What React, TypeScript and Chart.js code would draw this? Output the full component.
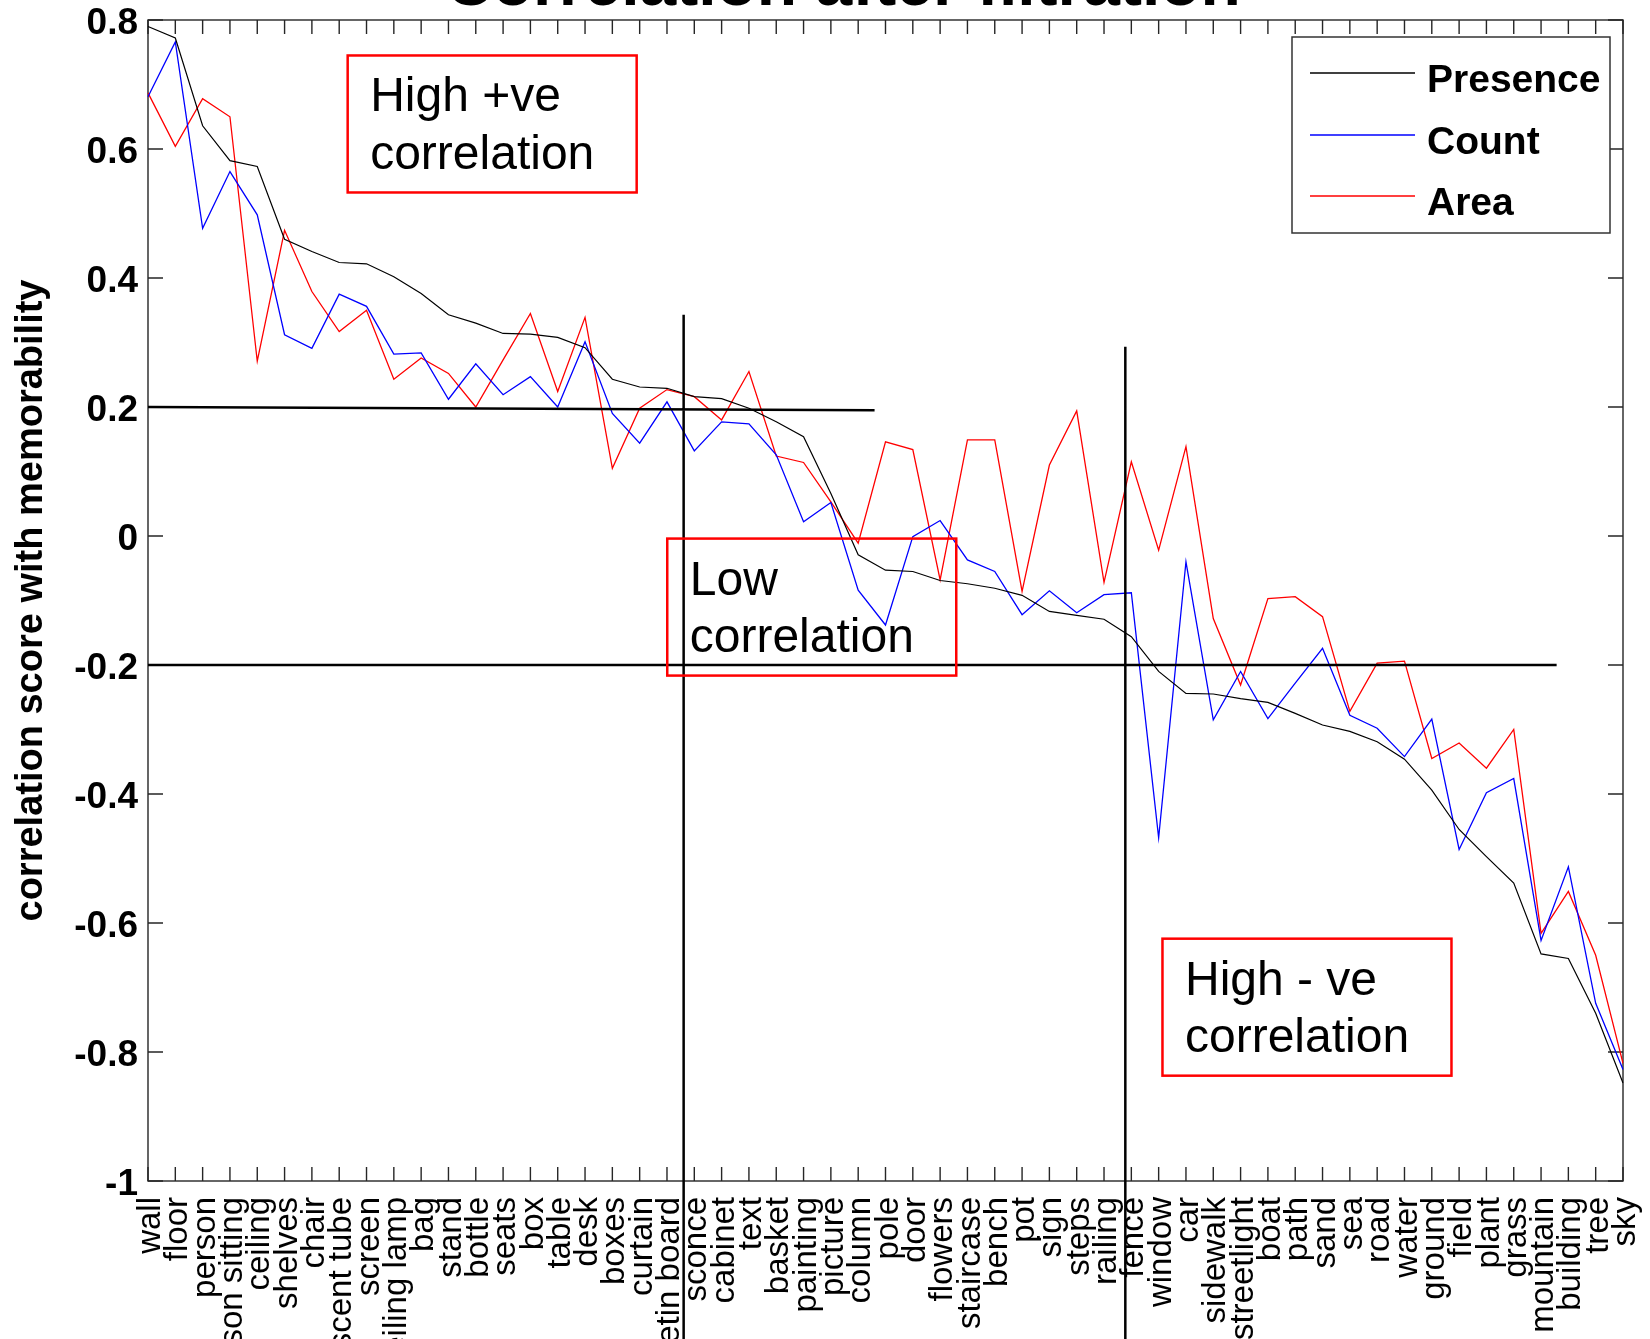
import React, { useEffect, useRef } from "react";
import { Chart, registerables } from "chart.js";

Chart.register(...registerables);

// Object categories, ordered by their presence correlation
const CATEGORIES = [
  "wall", "floor", "person", "person sitting", "ceiling", "shelves", "chair", "fluorescent tube", "screen", "ceiling lamp",
  "bag", "stand", "bottle", "seats", "box", "table", "desk", "boxes", "curtain", "bulletin board",
  "sconce", "cabinet", "text", "basket", "painting", "picture", "column", "pole", "door", "flowers",
  "staircase", "bench", "pot", "sign", "steps", "railing", "fence", "window", "car", "sidewalk",
  "streetlight", "boat", "path", "sand", "sea", "road", "water", "ground", "field", "plant",
  "grass", "mountain", "building", "tree", "sky",
];

const PRESENCE = [
  0.79, 0.772, 0.636, 0.582, 0.573, 0.46, 0.441, 0.424, 0.422, 0.402,
  0.376, 0.343, 0.33, 0.314, 0.313, 0.308, 0.292, 0.243, 0.231, 0.229,
  0.216, 0.213, 0.198, 0.177, 0.154, 0.066, -0.029, -0.053, -0.055, -0.069,
  -0.074, -0.081, -0.092, -0.117, -0.123, -0.129, -0.156, -0.21, -0.244, -0.245,
  -0.252, -0.258, -0.275, -0.293, -0.303, -0.319, -0.346, -0.394, -0.455, -0.497,
  -0.538, -0.648, -0.655, -0.74, -0.848,
];

const COUNT = [
  0.681, 0.766, 0.477, 0.565, 0.498, 0.312, 0.291, 0.375, 0.356, 0.282,
  0.284, 0.212, 0.267, 0.219, 0.247, 0.2, 0.301, 0.19, 0.144, 0.208,
  0.132, 0.177, 0.174, 0.126, 0.022, 0.052, -0.084, -0.138, -0.001, 0.024,
  -0.037, -0.055, -0.122, -0.085, -0.119, -0.091, -0.088, -0.468, -0.04, -0.285,
  -0.21, -0.283, -0.228, -0.174, -0.278, -0.298, -0.342, -0.284, -0.486, -0.398,
  -0.376, -0.627, -0.513, -0.7245, -0.827,
];

const AREA = [
  0.687, 0.604, 0.678, 0.65, 0.271, 0.474, 0.379, 0.317, 0.35, 0.243,
  0.276, 0.252, 0.2, 0.273, 0.345, 0.224, 0.339, 0.105, 0.198, 0.227,
  0.216, 0.18, 0.255, 0.124, 0.114, 0.053, -0.011, 0.146, 0.134, -0.068,
  0.149, 0.149, -0.086, 0.11, 0.194, -0.072, 0.115, -0.022, 0.1385, -0.128,
  -0.231, -0.097, -0.094, -0.125, -0.272, -0.197, -0.194, -0.345, -0.321, -0.36,
  -0.3, -0.616, -0.551, -0.65, -0.8175,
];

const Y_MIN = -1;
const Y_MAX = 0.8;
const Y_STEP = 0.2;

const TITLE = "Correlation after filtration";
const Y_TITLE = "correlation score with memorability";

// Threshold guides, in data units (x = category index, y = correlation)
const UPPER_GUIDE = { x0: 0, y0: 0.2, x1: 26.6, y1: 0.195 };
const LOWER_GUIDE = { x0: 0, y0: -0.2, x1: 51.57, y1: -0.2 };
const SPLITS = [
  { x: 19.61, yTop: 0.343 },
  { x: 35.78, yTop: 0.2935 },
];

// Region notes, anchored at their top-left corner in data units
const REGION_NOTES = [
  { lines: ["High +ve", "correlation"], x: 7.31, y: 0.745 },
  { lines: ["Low", "correlation"], x: 19.01, y: -0.004 },
  { lines: ["High - ve", "correlation"], x: 37.14, y: -0.6243 },
];

const FONT = "'Liberation Sans', Arial, Helvetica, sans-serif";

const framePlugin = {
  id: "frame",
  beforeDatasetsDraw(chart: any) {
    const { ctx, chartArea: a, scales } = chart;
    const xs = scales.x;
    const ys = scales.y;
    ctx.save();
    ctx.strokeStyle = "#262626";
    ctx.lineWidth = 1.4;
    ctx.strokeRect(a.left, a.top, a.right - a.left, a.bottom - a.top);
    ctx.beginPath();
    for (let i = 0; i < CATEGORIES.length; i++) {
      const px = xs.getPixelForValue(i);
      ctx.moveTo(px, a.bottom);
      ctx.lineTo(px, a.bottom - 14);
      ctx.moveTo(px, a.top);
      ctx.lineTo(px, a.top + 14);
    }
    ys.ticks.forEach((t: any) => {
      const py = ys.getPixelForValue(t.value);
      ctx.moveTo(a.left, py);
      ctx.lineTo(a.left + 15, py);
      ctx.moveTo(a.right, py);
      ctx.lineTo(a.right - 15, py);
    });
    ctx.stroke();
    ctx.restore();
  },
};

const overlayPlugin = {
  id: "overlay",
  afterDraw(chart: any) {
    const { ctx, chartArea: a, scales } = chart;
    const xs = scales.x;
    const ys = scales.y;
    ctx.save();

    // threshold guides
    ctx.strokeStyle = "#000";
    ctx.lineWidth = 2.5;
    ctx.beginPath();
    for (const g of [UPPER_GUIDE, LOWER_GUIDE]) {
      ctx.moveTo(xs.getPixelForValue(g.x0), ys.getPixelForValue(g.y0));
      ctx.lineTo(xs.getPixelForValue(g.x1), ys.getPixelForValue(g.y1));
    }
    for (const s of SPLITS) {
      const px = xs.getPixelForValue(s.x);
      ctx.moveTo(px, ys.getPixelForValue(s.yTop));
      ctx.lineTo(px, chart.height);
    }
    ctx.stroke();

    // region notes
    for (const n of REGION_NOTES) {
      const left = xs.getPixelForValue(n.x);
      const top = ys.getPixelForValue(n.y);
      ctx.strokeStyle = "#ff0000";
      ctx.lineWidth = 2.5;
      ctx.strokeRect(left, top, 289, 137);
      ctx.fillStyle = "#000";
      ctx.font = `48px ${FONT}`;
      ctx.textAlign = "left";
      ctx.textBaseline = "alphabetic";
      ctx.fillText(n.lines[0], left + 22.5, top + 56);
      ctx.fillText(n.lines[1], left + 22.5, top + 113.6);
    }

    // legend
    const bx = a.right - 331;
    const by = a.top + 17;
    ctx.fillStyle = "#fff";
    ctx.fillRect(bx, by, 318, 196);
    ctx.strokeStyle = "#333";
    ctx.lineWidth = 1.5;
    ctx.strokeRect(bx, by, 318, 196);
    const rows = [36, 98, 159];
    chart.data.datasets.forEach((ds: any, i: number) => {
      const ry = by + rows[i];
      ctx.strokeStyle = ds.borderColor;
      ctx.lineWidth = 1.3;
      ctx.beginPath();
      ctx.moveTo(bx + 18, ry);
      ctx.lineTo(bx + 123, ry);
      ctx.stroke();
      ctx.fillStyle = "#000";
      ctx.font = `bold 39px ${FONT}`;
      ctx.textAlign = "left";
      ctx.textBaseline = "alphabetic";
      ctx.fillText(ds.label, bx + 135, ry + 19);
    });

    // title
    ctx.fillStyle = "#000";
    ctx.font = `bold 66px ${FONT}`;
    ctx.textAlign = "center";
    ctx.textBaseline = "alphabetic";
    ctx.fillText(TITLE, 843, 5);

    ctx.restore();
  },
};

export default function App() {
  const ref = useRef<HTMLCanvasElement>(null);

  useEffect(() => {
    const canvas = ref.current;
    if (!canvas) return;
    const chart = new Chart(canvas, {
      type: "line",
      data: {
        labels: CATEGORIES,
        datasets: [
          { label: "Presence", data: PRESENCE, borderColor: "#000000", borderWidth: 1.2 },
          { label: "Count", data: COUNT, borderColor: "#0000ff", borderWidth: 1.3 },
          { label: "Area", data: AREA, borderColor: "#ff0000", borderWidth: 1.3 },
        ],
      },
      options: {
        responsive: false,
        animation: false,
        devicePixelRatio: 1,
        events: [],
        layout: { padding: { left: 0, right: 27, top: 20, bottom: 0 } },
        elements: {
          point: { radius: 0, hoverRadius: 0 },
          line: { tension: 0, fill: false },
        },
        plugins: {
          legend: { display: false },
          title: { display: false },
          tooltip: { enabled: false },
        },
        scales: {
          x: {
            type: "category",
            offset: false,
            grid: { display: false, drawTicks: false },
            border: { display: false },
            ticks: {
              autoSkip: false,
              minRotation: 90,
              maxRotation: 90,
              padding: 16,
              labelOffset: 3,
              color: "#000",
              font: { family: FONT, size: 33 },
            },
            afterFit: (s: any) => {
              s.height = 158;
              s.paddingLeft = 0;
              s.paddingRight = 0;
            },
          },
          y: {
            type: "linear",
            min: Y_MIN,
            max: Y_MAX,
            grid: { display: false, drawTicks: false },
            border: { display: false },
            ticks: {
              stepSize: Y_STEP,
              padding: 10,
              labelOffset: 4,
              color: "#000",
              font: { family: FONT, size: 37, weight: "bold" },
              callback: (v: any) => String(Number(Number(v).toFixed(1))),
            },
            title: {
              display: true,
              text: Y_TITLE,
              color: "#000",
              font: { family: FONT, size: 38, weight: "bold" },
              padding: { top: 9, bottom: 0 },
            },
            afterFit: (s: any) => {
              s.width = 148;
              s.paddingTop = 0;
              s.paddingBottom = 0;
            },
          },
        },
      } as any,
      plugins: [framePlugin, overlayPlugin],
    });
    return () => chart.destroy();
  }, []);

  return (
    <div
      style={{
        position: "fixed",
        left: 0,
        top: 0,
        width: 1650,
        height: 1339,
        overflow: "hidden",
        background: "#fff",
      }}
    >
      <canvas ref={ref} width={1650} height={1339} style={{ display: "block", width: 1650, height: 1339 }} />
    </div>
  );
}
